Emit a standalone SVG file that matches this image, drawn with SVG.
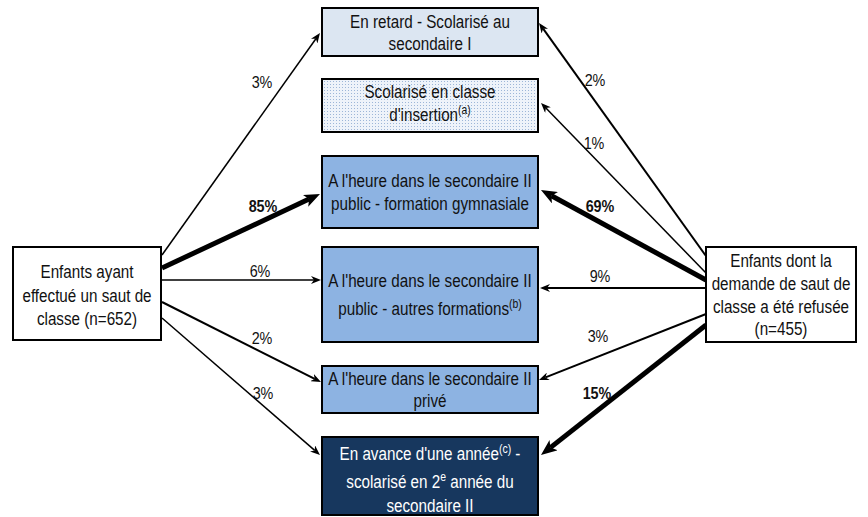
<svg xmlns="http://www.w3.org/2000/svg" width="868" height="517" viewBox="0 0 868 517">
<style>
text{font-family:"Liberation Sans",Arial,sans-serif;font-size:17.5px;fill:#111;text-anchor:middle}
.lbl{font-size:16.5px}
.b{font-weight:bold}
.w{fill:#fff}
.sup{font-size:12px}
.box{stroke:#000;stroke-width:2}
.thin{stroke:#000;stroke-width:1.5;fill:none;marker-end:url(#ah)}
.thick{stroke:#000;stroke-width:5;fill:none;marker-end:url(#ahT)}
</style>
<defs>
<marker id="ah" markerUnits="userSpaceOnUse" markerWidth="10" markerHeight="8" refX="3" refY="4" orient="auto" viewBox="0 0 10 8">
<path d="M0,0 L10,4 L0,8 L3,4 z" fill="#000"/>
</marker>
<marker id="ahT" markerUnits="userSpaceOnUse" markerWidth="16" markerHeight="13" refX="4" refY="6.5" orient="auto" viewBox="0 0 16 13">
<path d="M0,0 L16,6.5 L0,13 L4,6.5 z" fill="#000"/>
</marker>
<pattern id="dots" width="3" height="3" patternUnits="userSpaceOnUse">
<rect width="3" height="3" fill="#eef3fa"/>
<rect width="1" height="1" fill="#9db6d8"/>
</pattern>
</defs>

<g id="connectors">
<line class="thin" x1="162" y1="255" x2="315.9" y2="38.7"/>
<line class="thick" x1="162" y1="268" x2="309.1" y2="199.1"/>
<line class="thin" x1="162" y1="280" x2="314" y2="280"/>
<line class="thin" x1="162" y1="302" x2="314.7" y2="378.9" style="stroke-width:2"/>
<line class="thin" x1="162" y1="318" x2="314.7" y2="450.4"/>
<line class="thin" x1="706" y1="256" x2="543.1" y2="28.7" style="stroke-width:2"/>
<line class="thin" x1="706" y1="273" x2="545.9" y2="108"/>
<line class="thick" x1="706" y1="280" x2="551.5" y2="195.7"/>
<line class="thin" x1="706" y1="288" x2="547" y2="288" style="stroke-width:2"/>
<line class="thin" x1="706" y1="314" x2="545.5" y2="377.4" style="stroke-width:2"/>
<line class="thick" x1="706" y1="325" x2="550.4" y2="447.6"/>
<text class="lbl" transform="translate(262 0) scale(0.87 1)" x="0" y="88">3%</text>
<text class="lbl b" transform="translate(263 0) scale(0.87 1)" x="0" y="212">85%</text>
<text class="lbl" transform="translate(260 0) scale(0.87 1)" x="0" y="277">6%</text>
<text class="lbl" transform="translate(262 0) scale(0.87 1)" x="0" y="344">2%</text>
<text class="lbl" transform="translate(263 0) scale(0.87 1)" x="0" y="399">3%</text>
<text class="lbl" transform="translate(595 0) scale(0.87 1)" x="0" y="86">2%</text>
<text class="lbl" transform="translate(594 0) scale(0.87 1)" x="0" y="149">1%</text>
<text class="lbl b" transform="translate(600 0) scale(0.87 1)" x="0" y="212">69%</text>
<text class="lbl" transform="translate(600 0) scale(0.87 1)" x="0" y="282">9%</text>
<text class="lbl" transform="translate(598 0) scale(0.87 1)" x="0" y="342">3%</text>
<text class="lbl b" transform="translate(597 0) scale(0.87 1)" x="0" y="399">15%</text>
</g>

<g id="left">
<rect class="box" x="13" y="247" width="148" height="93" fill="#fff"/>
<text transform="translate(87 0) scale(0.87 1)" x="0" y="278">Enfants ayant</text>
<text transform="translate(87 0) scale(0.87 1)" x="0" y="302">effectué un saut de</text>
<text transform="translate(87 0) scale(0.87 1)" x="0" y="325">classe (n=652)</text>
</g>

<g id="right">
<rect class="box" x="706" y="247" width="150" height="95" fill="#fff"/>
<text transform="translate(781 0) scale(0.87 1)" x="0" y="267">Enfants dont la</text>
<text transform="translate(781 0) scale(0.87 1)" x="0" y="290">demande de saut de</text>
<text transform="translate(781 0) scale(0.87 1)" x="0" y="313">classe a été refusée</text>
<text transform="translate(781 0) scale(0.87 1)" x="0" y="335">(n=455)</text>
</g>

<g id="retard">
<rect class="box" x="322" y="8" width="216" height="48" fill="#dce6f2"/>
<text transform="translate(430 0) scale(0.87 1)" x="0" y="28">En retard - Scolarisé au</text>
<text transform="translate(430 0) scale(0.87 1)" x="0" y="50">secondaire I</text>
</g>

<g id="insertion">
<rect class="box" x="322" y="79" width="216" height="53" fill="url(#dots)"/>
<text transform="translate(430 0) scale(0.87 1)" x="0" y="98">Scolarisé en classe</text>
<text transform="translate(430 0) scale(0.87 1)" x="0" y="121">d'insertion<tspan class="sup" dy="-7">(a)</tspan></text>
</g>

<g id="gymnasiale">
<rect class="box" x="322" y="156" width="216" height="72" fill="#8db3e2"/>
<text transform="translate(430 0) scale(0.87 1)" x="0" y="187">A l'heure dans le secondaire II</text>
<text transform="translate(430 0) scale(0.87 1)" x="0" y="210">public - formation gymnasiale</text>
</g>

<g id="autres">
<rect class="box" x="322" y="247" width="216" height="95" fill="#8db3e2"/>
<text transform="translate(430 0) scale(0.87 1)" x="0" y="287">A l'heure dans le secondaire II</text>
<text transform="translate(430 0) scale(0.87 1)" x="0" y="315">public - autres formations<tspan class="sup" dy="-7">(b)</tspan></text>
</g>

<g id="prive">
<rect class="box" x="322" y="366" width="216" height="47" fill="#8db3e2"/>
<text transform="translate(430 0) scale(0.87 1)" x="0" y="385">A l'heure dans le secondaire II</text>
<text transform="translate(430 0) scale(0.87 1)" x="0" y="407">privé</text>
</g>

<g id="avance">
<rect class="box" x="322" y="437" width="216" height="78" fill="#17375e"/>
<text class="w" transform="translate(430 0) scale(0.87 1)" x="0" y="460">En avance d'une année<tspan class="sup w" dy="-7">(c)</tspan><tspan dy="7"> -</tspan></text>
<text class="w" transform="translate(430 0) scale(0.87 1)" x="0" y="488">scolarisé en 2<tspan class="sup w" dy="-7">e</tspan><tspan dy="7"> année du</tspan></text>
<text class="w" transform="translate(430 0) scale(0.87 1)" x="0" y="512">secondaire II</text>
</g>
</svg>
